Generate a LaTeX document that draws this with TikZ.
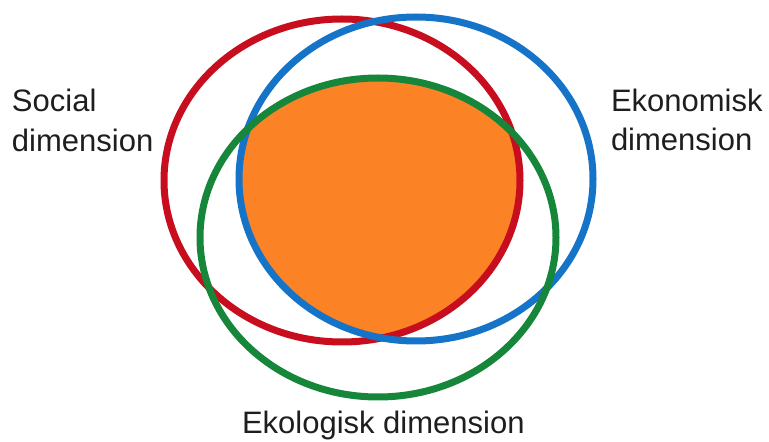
\documentclass[tikz,border=0pt]{standalone}
\usepackage{fontspec}
\setmainfont{Liberation Sans}
\definecolor{cred}{RGB}{200,14,30}
\definecolor{cblue}{RGB}{22,116,200}
\definecolor{cgreen}{RGB}{22,134,58}
\definecolor{corange}{RGB}{252,130,38}
\definecolor{ctext}{RGB}{30,30,30}
\tikzset{
  ring/.style={line width=7pt},
  lbl/.style={inner sep=0pt, outer sep=0pt, text=ctext, font=\fontsize{31}{37}\selectfont, anchor=base west}
}
\begin{document}
\begin{tikzpicture}[x=1pt,y=1pt]
\useasboundingbox (0,0) rectangle (769,442);
% orange intersection
\begin{scope}
  \clip (342,261.5) ellipse [x radius=178, y radius=161.5];
  \clip (416,263) ellipse [x radius=177, y radius=162];
  \fill[corange] (378,204.5) ellipse [x radius=178, y radius=159.5];
\end{scope}
\draw[ring, cred] (342,261.5) ellipse [x radius=178, y radius=161.5];
\draw[ring, cblue] (416,263) ellipse [x radius=177, y radius=162];
\draw[ring, cgreen] (378,204.5) ellipse [x radius=178, y radius=159.5];
% labels
\node[lbl] (soc1) at (12,330) {Social};
\node[lbl] (soc2) at (12,290) {dimension};
\node[lbl] (eko1) at (611,330) {Ekonomisk};
\node[lbl] (eko2) at (611,291) {dimension};
\node[lbl] (ekl) at (242,8) {Ekologisk dimension};
\end{tikzpicture}
\end{document}
